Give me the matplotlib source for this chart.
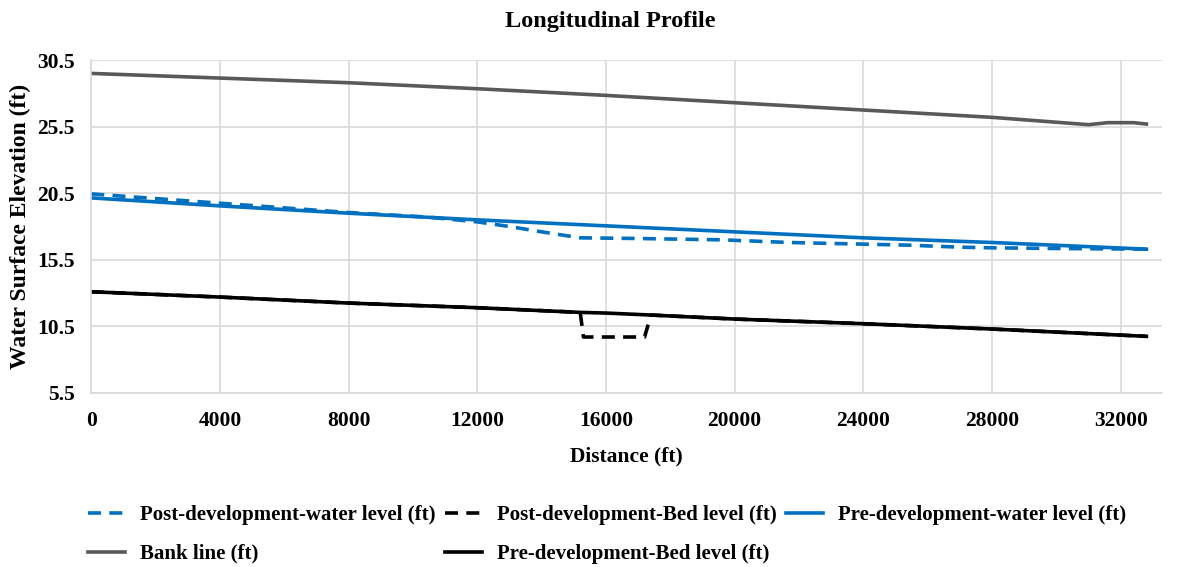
import matplotlib.pyplot as plt

plt.rcParams['font.family'] = ['Liberation Serif', 'DejaVu Serif']
plt.rcParams['font.weight'] = 'bold'

# distance (ft) and elevations (ft)
pre_water_x = [0, 4000, 8000, 12000, 16000, 20000, 24000, 28000, 32800]
pre_water_y = [20.15, 19.55, 19.0, 18.5, 18.05, 17.6, 17.15, 16.8, 16.3]

post_water_x = [0, 4000, 8000, 10500, 12000, 13000, 14000, 15200, 17000, 19600,
                21700, 25400, 27000, 28000, 30000, 32800]
post_water_y = [20.45, 19.75, 19.05, 18.7, 18.35, 18.0, 17.6, 17.15, 17.1, 17.0,
                16.8, 16.6, 16.45, 16.4, 16.35, 16.3]

bank_x = [0, 4000, 8000, 12000, 16000, 20000, 24000, 28000, 31000, 31600, 32400, 32800]
bank_y = [29.5, 29.15, 28.8, 28.35, 27.85, 27.3, 26.75, 26.2, 25.65, 25.8, 25.8, 25.7]

pre_bed_x = [0, 4000, 8000, 12000, 15200, 16000, 17400, 20000, 24000, 28000, 32800]
pre_bed_y = [13.1, 12.7, 12.25, 11.9, 11.55, 11.5, 11.35, 11.05, 10.7, 10.3, 9.75]

post_bed_x = [0, 4000, 8000, 12000, 15200, 15300, 17200, 17400, 20000, 24000, 28000, 32800]
post_bed_y = [13.1, 12.7, 12.25, 11.9, 11.55, 9.7, 9.7, 11.35, 11.05, 10.7, 10.3, 9.75]

x_ticks = [0, 4000, 8000, 12000, 16000, 20000, 24000, 28000, 32000]
y_ticks = [5.5, 10.5, 15.5, 20.5, 25.5, 30.5]

blue = '#0070C0'
fig = plt.figure(figsize=(11.85, 5.67), dpi=100)
ax = fig.add_axes([0.077, 0.307, 0.904, 0.587])

l1, = ax.plot(post_water_x, post_water_y, color=blue, lw=2.6, dashes=(3.6, 2.3),
              label='Post-development-water level (ft)')
l2, = ax.plot(post_bed_x, post_bed_y, color='black', lw=2.6, dashes=(3.6, 2.3),
              label='Post-development-Bed level (ft)')
l3, = ax.plot(pre_water_x, pre_water_y, color=blue, lw=2.6,
              label='Pre-development-water level (ft)')
l4, = ax.plot(bank_x, bank_y, color='#595959', lw=2.6, label='Bank line (ft)')
l5, = ax.plot(pre_bed_x, pre_bed_y, color='black', lw=2.6,
              label='Pre-development-Bed level (ft)')

ax.set_xlim(0, 33300)
ax.set_ylim(5.5, 30.5)
ax.set_xticks(x_ticks)
ax.set_yticks(y_ticks)
ax.tick_params(labelsize=15.5, length=0)
ax.tick_params(axis='x', pad=13)
ax.tick_params(axis='y', pad=12)
ax.grid(color='#d9d9d9', lw=1.2)
ax.set_axisbelow(True)
for s in ['top', 'right']:
    ax.spines[s].set_visible(False)
for s in ['left', 'bottom']:
    ax.spines[s].set_color('#d9d9d9')
    ax.spines[s].set_linewidth(1.2)

fig.text(0.515, 0.962, 'Longitudinal Profile', fontsize=17.5, fontweight='bold',
         ha='center', va='center')
ax.set_xlabel('Distance (ft)', fontsize=15.5, fontweight='bold', labelpad=11)
ax.set_ylabel('Water Surface Elevation (ft)', fontsize=17, fontweight='bold', labelpad=4)

handles = [l1, l4, l2, l5, l3]
fig.legend(handles, [h.get_label() for h in handles], ncol=3, loc='upper left',
           bbox_to_anchor=(0.074, 0.109), frameon=False, fontsize=15,
           handlelength=1.8, handletextpad=0.7, columnspacing=0.45,
           labelspacing=0.9, borderaxespad=0, borderpad=0)

fig.savefig('out.png', dpi=100)
